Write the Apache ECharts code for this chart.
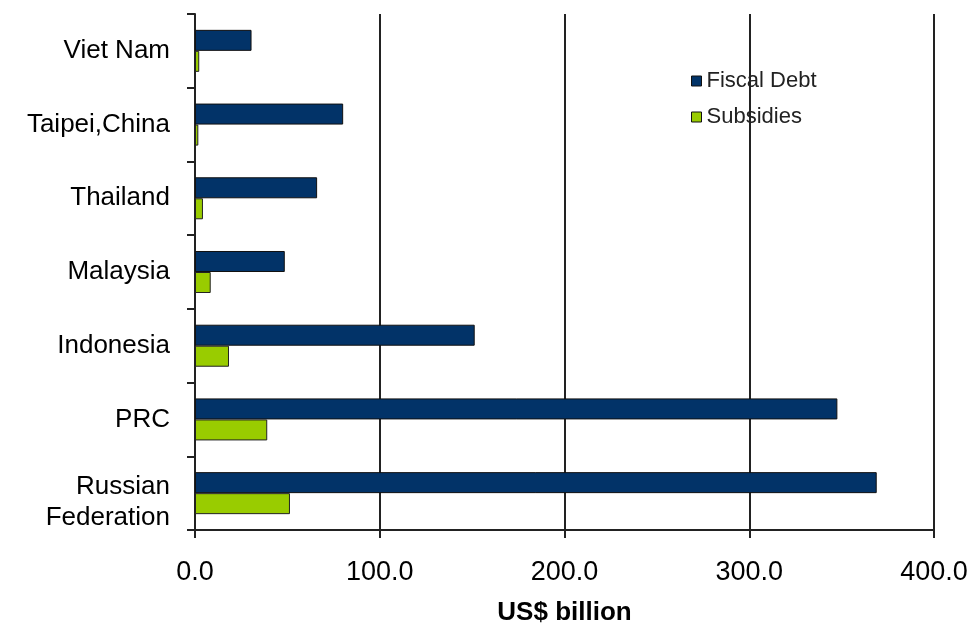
<!DOCTYPE html>
<html><head><meta charset="utf-8">
<script src="https://cdn.jsdelivr.net/npm/echarts@6/dist/echarts.min.js"></script>
<style>html,body{margin:0;padding:0;background:#fff}#c{width:968px;height:635px}</style>
</head><body><div id="c"></div>
<script>
const categories = ['Viet Nam', 'Taipei,China', 'Thailand', 'Malaysia', 'Indonesia', 'PRC', 'Russian\nFederation'];
const fiscalDebt = [30.6, 80.2, 66.1, 48.6, 151.4, 347.7, 369.0];
const subsidies = [2.3, 1.8, 4.3, 8.5, 18.4, 39.1, 51.4];
const xTicks = [0, 100, 200, 300, 400];

const chart = echarts.init(document.getElementById('c'));
const font = 'Liberation Sans, Arial, sans-serif';
chart.setOption({
  animation: false,
  textStyle: { fontFamily: font },
  legend: {
    orient: 'vertical', left: 686, top: 65, itemWidth: 10, itemHeight: 10, itemGap: 14,
    icon: 'rect',
    textStyle: { fontFamily: font, fontSize: 22, color: '#222' },
    data: [
      { name: 'Fiscal Debt', itemStyle: { borderColor: '#111', borderWidth: 1 } },
      { name: 'Subsidies', itemStyle: { borderColor: '#111', borderWidth: 1 } }
    ]
  },
  grid: { left: 195, right: 34, top: 14, bottom: 105, containLabel: false, outerBoundsMode: 'none' },
  xAxis: {
    type: 'value', min: 0, max: 400, interval: 100,
    name: 'US$ billion', nameLocation: 'middle', nameGap: 70,
    nameTextStyle: { fontFamily: font, fontSize: 26, fontWeight: 'bold', color: '#000' },
    axisLine: { show: true, lineStyle: { color: '#222', width: 2 } },
    axisTick: { show: true, length: 8, lineStyle: { color: '#222', width: 2 } },
    axisLabel: { fontFamily: font, fontSize: 27, color: '#000', margin: 29,
      formatter: v => xTicks.includes(v) ? v.toFixed(1) : '' },
    splitLine: { show: true, lineStyle: { color: '#222', width: 2 } }
  },
  yAxis: {
    type: 'category', inverse: true, data: categories,
    axisLine: { show: true, lineStyle: { color: '#222', width: 2 } },
    axisTick: { show: true, length: 8, lineStyle: { color: '#222', width: 2 } },
    axisLabel: { fontFamily: font, fontSize: 26, color: '#000', margin: 25, align: 'right',
      formatter: v => v.includes('\n')
        ? '{s| }\n' + v.split('\n').map(p => '{a|' + p + '}').join('\n')
        : '{a|' + v + '}',
      rich: {
        a: { fontFamily: font, fontSize: 26, color: '#000', lineHeight: 31, align: 'right' },
        s: { fontSize: 1, lineHeight: 18, align: 'right' }
      }
    }
  },
  series: [
    { name: 'Fiscal Debt', type: 'bar', data: fiscalDebt, barGap: '0%', barCategoryGap: '43%',
      itemStyle: { color: '#023368', borderColor: '#111', borderWidth: 1 } },
    { name: 'Subsidies', type: 'bar', data: subsidies, barGap: '0%', barCategoryGap: '43%',
      itemStyle: { color: '#99cc00', borderColor: '#222', borderWidth: 1 } }
  ]
});
</script></body></html>
